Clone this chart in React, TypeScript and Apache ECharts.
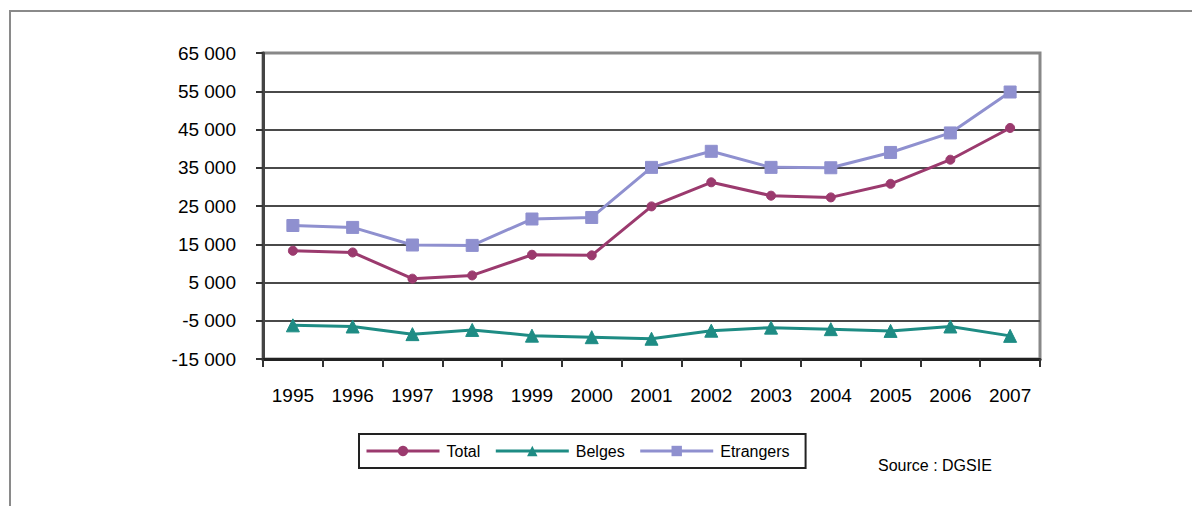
import React, { useEffect, useRef } from "react";
import * as echarts from "echarts";

const years = ["1995", "1996", "1997", "1998", "1999", "2000", "2001", "2002", "2003", "2004", "2005", "2006", "2007"];
const totalValues = [13300, 12850, 6000, 6850, 12250, 12100, 24900, 31200, 27700, 27250, 30800, 37100, 45400];
const belgesValues = [-6200, -6500, -8500, -7400, -8900, -9300, -9700, -7600, -6800, -7200, -7650, -6500, -8950];
const etrangersValues = [19900, 19400, 14800, 14700, 21600, 22000, 35100, 39300, 35100, 35000, 39000, 44100, 54800];
const seriesNames = ["Total", "Belges", "Etrangers"];
const sourceText = "Source : DGSIE";

const FONT = "'Liberation Sans', Arial, sans-serif";

function fmt(v: number): string {
  const sign = v < 0 ? "-" : "";
  const s = Math.abs(v).toString();
  return sign + s.replace(/\B(?=(\d{3})+(?!\d))/g, " ");
}

export default function App() {
  const ref = useRef<HTMLDivElement>(null);
  useEffect(() => {
    document.body.style.margin = "0";
    const chart = echarts.init(ref.current!, undefined, { renderer: "svg" });
    const colors = ["#9B3A6E", "#1E8C84", "#8F90CF"];
    const symbols = ["circle", "triangle", "rect"];
    const sizes = [9, 13, 12];
    const data = [totalValues, belgesValues, etrangersValues];
    chart.setOption({
      animation: false,
      backgroundColor: "#fff",
      grid: {
        left: 263,
        top: 53,
        right: 152,
        bottom: 147,
        show: true,
        borderColor: "#888",
        borderWidth: 3,
        backgroundColor: "#fff",
      },
      xAxis: {
        type: "category",
        data: years,
        boundaryGap: true,
        axisLine: { onZero: false, lineStyle: { color: "#222", width: 3 } },
        axisTick: { show: true, length: 8, interval: 0, lineStyle: { color: "#333", width: 2 } },
        axisLabel: { color: "#000", fontFamily: FONT, fontSize: 19, margin: 27, interval: 0 },
      },
      yAxis: {
        type: "value",
        min: -15000,
        max: 65000,
        interval: 10000,
        axisLine: { show: true, lineStyle: { color: "#444", width: 3 } },
        axisTick: { show: true, length: 7, lineStyle: { color: "#333", width: 2 } },
        axisLabel: { color: "#000", fontFamily: FONT, fontSize: 19, margin: 27, formatter: (v: number) => fmt(v) },
        splitLine: { show: true, showMinLine: false, showMaxLine: false, lineStyle: { color: "#4a4a4a", width: 2 } },
      },
      legend: {
        left: 359,
        top: 434,
        orient: "horizontal",
        itemWidth: 73,
        itemHeight: 13,
        itemGap: 14,
        padding: [9, 16, 9, 6],
        borderColor: "#222",
        borderWidth: 2,
        lineStyle: { width: 3 },
        textStyle: { color: "#000", fontFamily: FONT, fontSize: 16, padding: [0, 0, 0, 2] },
        data: seriesNames,
      },
      graphic: [
        {
          type: "rect",
          shape: { x: 10, y: 11, width: 1400, height: 700 },
          style: { fill: "none", stroke: "#8a8a8a", lineWidth: 2 },
          z: -10,
          silent: true,
        },
        {
          type: "text",
          left: 878,
          top: 457,
          style: { text: sourceText, fill: "#000", font: `16px ${FONT}` },
        },
      ],
      series: seriesNames.map((name, i) => ({
        name,
        type: "line",
        data: data[i],
        symbol: symbols[i],
        symbolSize: sizes[i],
        showAllSymbol: true,
        lineStyle: { color: colors[i], width: 3 },
        itemStyle: { color: colors[i], borderColor: colors[i] },
      })),
    });
    return () => chart.dispose();
  }, []);
  return <div ref={ref} style={{ width: 1192, height: 506 }} />;
}
